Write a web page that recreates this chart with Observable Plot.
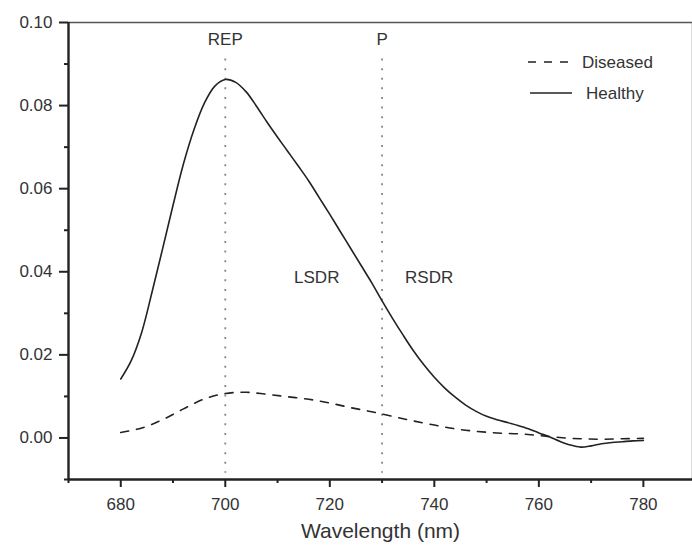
<!DOCTYPE html>
<html>
<head>
<meta charset="utf-8">
<script src="https://cdn.jsdelivr.net/npm/d3@7"></script>
<script src="https://cdn.jsdelivr.net/npm/@observablehq/plot@0.6"></script>
<style>
  html, body { margin: 0; padding: 0; background: #fff; }
  #wrap { position: relative; width: 692px; height: 547px; overflow: hidden; font-family: "Liberation Sans", Arial, sans-serif; }
  #legend { position: absolute; left: 0; top: 0; pointer-events: none; }
</style>
</head>
<body>
<div id="wrap">
  <div id="chart"></div>
  <svg id="legend" width="692" height="547">
    <line x1="528" x2="571" y1="62" y2="62" stroke="#222" stroke-width="1.6" stroke-dasharray="8,8"/>
    <text x="582" y="62" dy="0.35em" font-size="17" fill="#333" font-family="Liberation Sans, Arial, sans-serif">Diseased</text>
    <line x1="530" x2="572" y1="93" y2="93" stroke="#222" stroke-width="1.6"/>
    <text x="586" y="93" dy="0.35em" font-size="17" fill="#333" font-family="Liberation Sans, Arial, sans-serif">Healthy</text>
  </svg>
</div>
<script>
// Wavelength (nm) and first-derivative reflectance values
const healthyWl = [680,682,684,686,688,690,692,694,696,698,700,702,704,706,708,710,712,714,716,718,720,722,724,726,728,730,732,734,736,738,740,742,744,746,748,750,752,754,756,758,760,762,764,766,768,770,772,774,776,778,780];
const healthyVal = [0.0142,0.0186,0.0254,0.0352,0.0455,0.0560,0.0660,0.0742,0.0806,0.0847,0.0863,0.0856,0.0833,0.0798,0.0760,0.0724,0.0689,0.0654,0.0618,0.0578,0.0538,0.0497,0.0456,0.0415,0.0374,0.0330,0.0288,0.0248,0.0210,0.0176,0.0146,0.0120,0.0098,0.0079,0.0064,0.0052,0.0044,0.0037,0.0030,0.0022,0.0012,0.0003,-0.0008,-0.0017,-0.0022,-0.0019,-0.0014,-0.0011,-0.0009,-0.0007,-0.0006];

const diseasedWl = [680,684,688,692,696,700,704,708,712,716,720,724,728,732,736,740,744,748,752,756,760,764,768,772,776,780];
const diseasedVal = [0.0013,0.0024,0.0044,0.0070,0.0094,0.0107,0.0110,0.0105,0.0099,0.0093,0.0084,0.0073,0.0063,0.0052,0.0041,0.0031,0.0022,0.0016,0.0012,0.0010,0.0006,0.0001,-0.0002,-0.0003,-0.0002,-0.0001];

const markerWl = [700, 730];
const markerLabels = ["REP", "P"];
const regionLabels = ["LSDR", "RSDR"];
const regionWl = [717.5, 739];
const regionY = 0.0385;
const markerLabelY = 0.0958;

const xMajor = [680, 700, 720, 740, 760, 780];
const xMinor = [670, 690, 710, 730, 750, 770, 790];
const yMajor = [0.00, 0.02, 0.04, 0.06, 0.08, 0.10];
const yMinor = [-0.01, 0.01, 0.03, 0.05, 0.07, 0.09];

const healthy = healthyWl.map((w, i) => ({wl: w, v: healthyVal[i]}));
const diseased = diseasedWl.map((w, i) => ({wl: w, v: diseasedVal[i]}));
const markers = markerWl.map((w, i) => ({wl: w, label: markerLabels[i]}));
const regions = regionWl.map((w, i) => ({wl: w, label: regionLabels[i]}));

const xDomain = [670, 789.4];
const yDomain = [-0.01, 0.10];
const ink = "#222";
const txt = "#333";
const font = "Liberation Sans, Arial, sans-serif";

const chart = Plot.plot({
  width: 692,
  height: 547,
  marginLeft: 68,
  marginRight: 0,
  marginTop: 22,
  marginBottom: 68,
  style: {fontFamily: font, fontSize: "17px", color: txt, background: "#fff", overflow: "visible"},
  x: {domain: xDomain},
  y: {domain: yDomain},
  marks: [
    // dotted markers
    Plot.ruleX(markers, {x: "wl", y1: 0.0912, y2: -0.0085, stroke: "#888", strokeWidth: 1.8, strokeDasharray: "2,7.6"}),
    Plot.text(markers, {x: "wl", y: () => markerLabelY, text: "label", fontSize: 17, fill: txt}),
    Plot.text(regions, {x: "wl", y: () => regionY, text: "label", fontSize: 17, fill: txt}),
    // curves
    Plot.line(diseased, {x: "wl", y: "v", curve: "catmull-rom", stroke: ink, strokeWidth: 1.6, strokeDasharray: "8,8"}),
    Plot.line(healthy, {x: "wl", y: "v", curve: "catmull-rom", stroke: ink, strokeWidth: 1.6}),
    // frame
    Plot.ruleY([yDomain[1]], {stroke: "#555", strokeWidth: 1.5}),
    Plot.ruleX([xDomain[1]], {stroke: "#777", strokeWidth: 1.5}),
    // axes
    Plot.axisX(xMajor, {tickSize: 8, tickPadding: 10, tickFormat: d => d, fontSize: 17, fill: txt, stroke: ink, strokeWidth: 2, label: null}),
    Plot.axisX(xMinor, {tickSize: 4, tickFormat: () => "", stroke: ink, strokeWidth: 2, label: null}),
    Plot.axisY(yMajor, {tickSize: 9, tickPadding: 7, tickFormat: d3.format(".2f"), fontSize: 17, fill: txt, stroke: ink, strokeWidth: 2, label: null}),
    Plot.axisY(yMinor, {tickSize: 4, tickFormat: () => "", stroke: ink, strokeWidth: 2, label: null}),
    Plot.ruleY([yDomain[0]], {stroke: ink, strokeWidth: 2.4}),
    Plot.ruleX([xDomain[0]], {stroke: ink, strokeWidth: 2.4}),
    Plot.text(["Wavelength (nm)"], {frameAnchor: "bottom", dy: 58, fontSize: 21, fill: txt})
  ]
});
document.getElementById("chart").appendChild(chart);
</script>
</body>
</html>
